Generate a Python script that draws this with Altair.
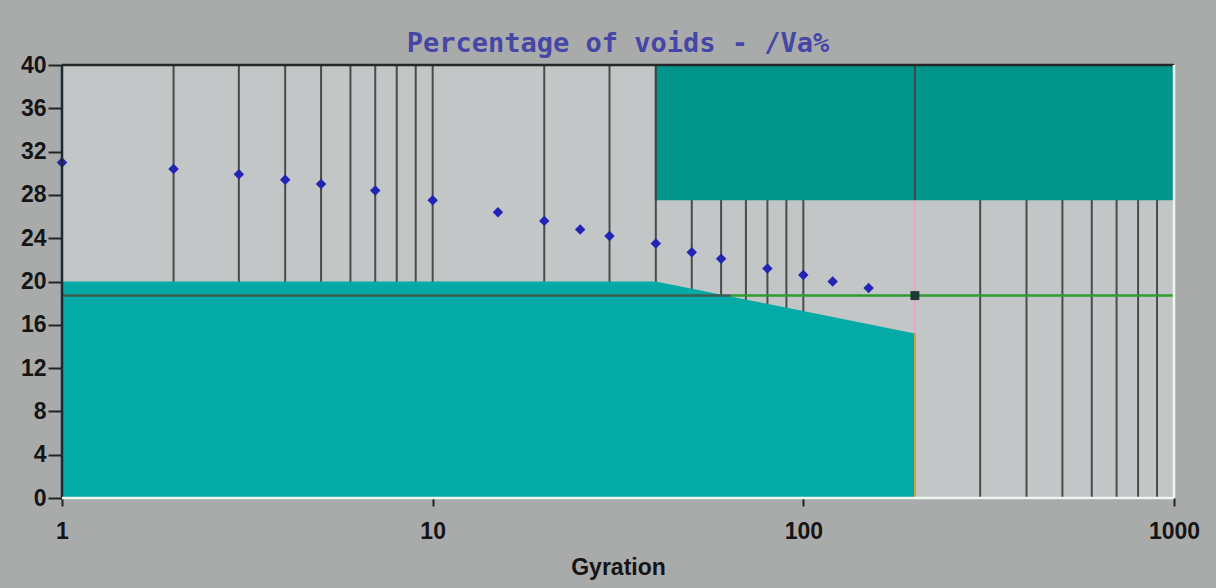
import altair as alt
import pandas as pd

# Measured void percentage at each gyration count
gyrations = [1, 2, 3, 4, 5, 7, 10, 15, 20, 25, 30, 40, 50, 60, 80, 100, 120, 150]
voids = [31.0, 30.4, 29.9, 29.4, 29.0, 28.4, 27.5, 26.4, 25.6, 24.8, 24.2,
         23.5, 22.7, 22.1, 21.2, 20.6, 20.0, 19.4]

# Design point (gyration, % voids)
design_gyration = [200]
design_voids = [18.7]

# Log-scale grid positions (gyration 200 is drawn on top separately)
grid_behind = [2, 3, 4, 5, 6, 7, 8, 9, 10, 20, 30, 40, 50, 60, 70, 80, 90,
               100, 300, 400, 500, 600, 700, 800, 900]

# Lower acceptance band (upper edge)
low_band_x = [1, 40, 200]
low_band_top = [20.0, 20.0, 15.2]

# Upper limit band
up_band_x = [40, 1000]
up_band_low = 27.5
up_band_high = 40.0

# Target void line, split where it leaves the lower band
target_x = [1, 64, 1000]
target_y = 18.7

x_ticks = [1, 10, 100, 1000]
y_ticks = [0, 4, 8, 12, 16, 20, 24, 28, 32, 36, 40]

xs = alt.Scale(type="log", domain=[1, 1000], nice=False)
ys = alt.Scale(domain=[0, 40], nice=False)

AXIS_FONT = "Liberation Sans"

x_axis = alt.Axis(values=x_ticks, format="d", title="Gyration", grid=False,
                  domain=False, tickColor="#222222", tickWidth=2, tickSize=8,
                  labelFont=AXIS_FONT, labelFontSize=23, labelFontWeight="bold",
                  labelColor="#151515", labelPadding=14, labelFlush=False,
                  titleFont=AXIS_FONT, titleFontSize=23, titleFontWeight="bold",
                  titleColor="#151515", titlePadding=13)
y_axis = alt.Axis(values=y_ticks, title=None, grid=False, domain=False,
                  tickColor="#222222", tickWidth=2, tickSize=14,
                  labelFont=AXIS_FONT, labelFontSize=23, labelFontWeight="bold",
                  labelColor="#151515", labelPadding=2)

grid_df = pd.DataFrame({"g": grid_behind})
grid = alt.Chart(grid_df).mark_rule(color="#4a4c4c", strokeWidth=2).encode(
    x=alt.X("g:Q", scale=xs, axis=x_axis),
    y=alt.datum(0, scale=ys, axis=y_axis),
    y2=alt.datum(40),
)

low_df = pd.DataFrame({"g": low_band_x, "top": low_band_top})
low_band = alt.Chart(low_df).mark_area(color="#04aaa5", opacity=1).encode(
    x=alt.X("g:Q", scale=xs),
    y=alt.Y("top:Q", scale=ys),
    y2=alt.datum(0),
)

up_df = pd.DataFrame({"g0": [up_band_x[0]], "g1": [up_band_x[1]],
                      "lo": [up_band_low], "hi": [up_band_high]})
up_band = alt.Chart(up_df).mark_rect(color="#01958b").encode(
    x=alt.X("g0:Q", scale=xs), x2="g1:Q",
    y=alt.Y("lo:Q", scale=ys), y2="hi:Q",
)
up_edge = alt.Chart(up_df).mark_rule(color="#2f4a48", strokeWidth=2).encode(
    x=alt.X("g0:Q", scale=xs),
    y=alt.Y("lo:Q", scale=ys), y2="hi:Q",
)

# Gyration 200 marker line: dark through the upper band, pink above the lower band,
# orange along the band edge
d200 = pd.DataFrame({
    "g": [200, 200, 200],
    "a": [up_band_low, low_band_top[-1], 0],
    "b": [up_band_high, up_band_low, low_band_top[-1]],
    "c": ["#3d4a48", "#f0a0c8", "#d89a3a"],
})
line200 = alt.Chart(d200).mark_rule(strokeWidth=2).encode(
    x=alt.X("g:Q", scale=xs),
    y=alt.Y("a:Q", scale=ys), y2="b:Q",
    color=alt.Color("c:N", scale=None),
)

tgt_df = pd.DataFrame({"g0": target_x[:-1], "g1": target_x[1:],
                       "v": [target_y, target_y],
                       "c": ["#3b5c50", "#2f9a2f"]})
target = alt.Chart(tgt_df).mark_rule(strokeWidth=2.5).encode(
    x=alt.X("g0:Q", scale=xs), x2="g1:Q",
    y=alt.Y("v:Q", scale=ys),
    color=alt.Color("c:N", scale=None),
)

pts_df = pd.DataFrame({"g": gyrations, "v": voids})
points = alt.Chart(pts_df).mark_point(shape="diamond", filled=True, size=110,
                                      color="#2324b4", opacity=1).encode(
    x=alt.X("g:Q", scale=xs),
    y=alt.Y("v:Q", scale=ys),
)

design_df = pd.DataFrame({"g": design_gyration, "v": design_voids})
design = alt.Chart(design_df).mark_point(shape="square", filled=True, size=80,
                                         color="#1d3a36", opacity=1).encode(
    x=alt.X("g:Q", scale=xs),
    y=alt.Y("v:Q", scale=ys),
)

# Bevelled frame: dark on top/left, light on bottom/right
frame_df = pd.DataFrame({
    "x0": [1, 1, 1, 1000], "x1": [1000, 1, 1000, 1000],
    "y0": [40, 0, 0, 0], "y1": [40, 40, 0, 40],
    "c": ["#262828", "#1a2a30", "#eef6f0", "#eef6f0"],
})
frame = alt.Chart(frame_df).mark_rule(strokeWidth=2.5).encode(
    x=alt.X("x0:Q", scale=xs), x2="x1:Q",
    y=alt.Y("y0:Q", scale=ys), y2="y1:Q",
    color=alt.Color("c:N", scale=None),
)

chart = alt.layer(
    grid, low_band, up_band, up_edge, line200, target, points, design, frame
).properties(
    width=1112,
    height=433,
    title=alt.TitleParams(
        "Percentage of voids - /Va%",
        font="DejaVu Sans Mono", fontSize=27, fontWeight="bold",
        color="#4646a6", anchor="middle", offset=-4,
    ),
    autosize=alt.AutoSizeParams(type="none"),
    padding={"left": 62, "top": 65, "right": 42, "bottom": 90},
    background="#a9abab",
).configure_view(
    fill="#c3c6c6", stroke=None,
)

chart.save("out.html", embed_options={"renderer": "svg", "actions": False})
